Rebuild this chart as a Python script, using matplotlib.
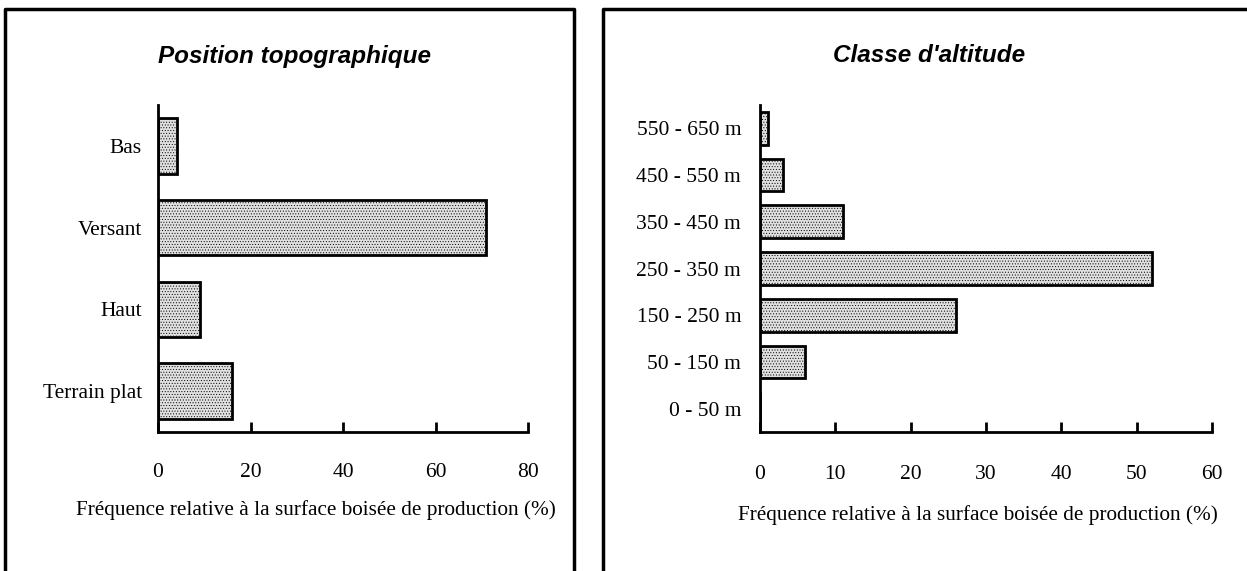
import matplotlib
matplotlib.use("Agg")
import matplotlib.pyplot as plt

# Topographic position (left panel), listed bottom to top
topo_labels = ["Terrain plat", "Haut", "Versant", "Bas"]
topo_values = [16, 9, 71, 4]

# Altitude class (right panel), listed bottom to top
alt_labels = ["0 - 50 m", "50 - 150 m", "150 - 250 m", "250 - 350 m",
              "350 - 450 m", "450 - 550 m", "550 - 650 m"]
alt_values = [0, 6, 26, 52, 11, 3, 1]

topo_ticks = [0, 20, 40, 60, 80]
alt_ticks = [0, 10, 20, 30, 40, 50, 60]

xlabel = "Fréquence relative à la surface boisée de production (%)"
serif = ["Liberation Serif", "DejaVu Serif"]
sans = ["Liberation Sans", "DejaVu Sans"]

W, H = 1247, 571
fig = plt.figure(figsize=(W / 100, H / 100), dpi=100)

plt.rcParams["hatch.color"] = "#8a8a8a"
plt.rcParams["hatch.linewidth"] = 0.4


def px_axes(x0, x1, y0, y1):
    return fig.add_axes([x0 / W, 1 - y1 / H, (x1 - x0) / W, (y1 - y0) / H])


def style(ax, ticks, xmax, ypad, xpad, lpad, lx):
    ax.set_xlim(0, xmax)
    ax.set_xticks(ticks)
    for s in ("top", "right"):
        ax.spines[s].set_visible(False)
    for s in ("left", "bottom"):
        ax.spines[s].set_linewidth(2)
    ax.tick_params(axis="x", direction="in", length=7, width=2, pad=xpad,
                   labelsize=15.5)
    ax.tick_params(axis="y", length=0, pad=ypad, labelsize=15.5)
    for lab in ax.get_xticklabels() + ax.get_yticklabels():
        lab.set_fontfamily(serif)
    ax.set_xlabel(xlabel, fontfamily=serif, fontsize=15.3, labelpad=lpad,
                  x=lx)


def bars(ax, labels, values, height):
    y = list(range(len(labels)))
    ax.barh(y, values, height=height, color="#e0e0e0",
            edgecolor="black", linewidth=2, hatch="......", zorder=2)
    ax.set_yticks(y)
    ax.set_yticklabels(labels)
    ax.set_ylim(-0.5, len(labels) - 0.5)


# Left panel
ax1 = px_axes(158, 528, 105, 432)
bars(ax1, topo_labels, topo_values, 0.68)
style(ax1, topo_ticks, 80, ypad=11.5, xpad=22, lpad=13, lx=0.427)

# Right panel
ax2 = px_axes(760, 1212, 105, 432)
bars(ax2, alt_labels, alt_values, 0.7)
style(ax2, alt_ticks, 60, ypad=13.5, xpad=24, lpad=15, lx=0.482)

# Frames around each panel (open at the bottom)
for x0, x1 in [(5, 574), (603, 1260)]:
    fig.add_artist(plt.Line2D([x0 / W, x0 / W, x1 / W, x1 / W],
                              [0, 1 - 9 / H, 1 - 9 / H, 0],
                              color="black", linewidth=2.5,
                              transform=fig.transFigure))

fig.text(295 / W, 1 - 56 / H, "Position topographique", ha="center",
         va="center", fontfamily=sans, fontsize=17.5, fontweight="bold",
         fontstyle="italic")
fig.text(929 / W, 1 - 56 / H, "Classe d'altitude", ha="center",
         va="center", fontfamily=sans, fontsize=17.5, fontweight="bold",
         fontstyle="italic")

fig.savefig("out.png", dpi=100)
